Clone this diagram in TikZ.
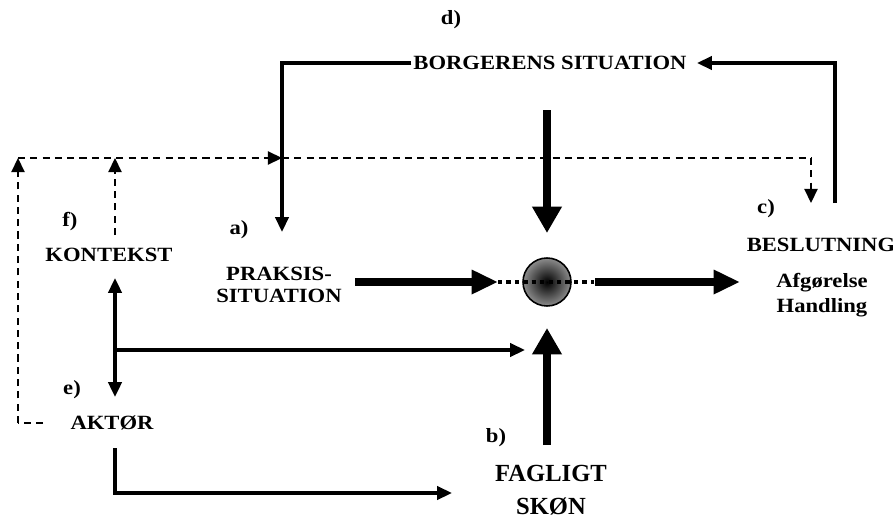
\documentclass[tikz,border=0pt]{standalone}
\usepackage{fontspec}
\setmainfont{Liberation Serif}[FakeStretch=1.12]
\newfontfamily\plainserif{Liberation Serif}
\usetikzlibrary{arrows.meta}
\begin{document}
\begin{tikzpicture}[x=0.02cm,y=-0.02cm,
  lbl/.style={font=\bfseries\fontsize{11.5}{13.5}\selectfont, inner sep=1pt, align=center},
  big/.style={font=\plainserif\bfseries\fontsize{14}{19}\selectfont, inner sep=1pt, align=center},
  heavy/.style={line width=4.4pt, -{Triangle[length=15pt,width=13pt]}},
  heavyv/.style={line width=4pt, -{Triangle[length=15pt,width=16pt]}},
  mid/.style={line width=2pt, -{Triangle[length=8.5pt,width=7.5pt]}},
  dashln/.style={line width=0.9pt, dash pattern=on 4pt off 3pt},
  dtip/.style={-{Triangle[length=8pt,width=7.5pt]}},
  dotline/.style={line width=2.4pt, dash pattern=on 2.4pt off 2.4pt}]
\path[use as bounding box] (0,0) rectangle (893,521);

% labels
\node[lbl] (ld) at (451,20) {d)};
\node[lbl] (bs) at (550,63) {BORGERENS SITUATION};
\node[lbl] (lf) at (70,222) {f)};
\node[lbl] (kon) at (109,255) {KONTEKST};
\node[lbl] (la) at (239,230) {a)};
\node[lbl] (prak) at (279,285) {PRAKSIS-\\[-1pt]SITUATION};
\node[lbl] (le) at (72,390) {e)};
\node[lbl] (akt) at (112,423) {AKTØR};
\node[lbl] (lb) at (496,438) {b)};
\node[big] (fag) at (551,490) {FAGLIGT\\SKØN};
\node[lbl] (lc) at (766,209) {c)};
\node[lbl] (bes) at (821,245) {BESLUTNING};
\node[lbl] (afg) at (822,295) {Afgørelse\\[1pt]Handling};

% central point
\node[circle, draw=black, line width=0.9pt, minimum size=48*0.02cm, inner sep=0pt,
      shading=radial, inner color=black, outer color=black!45] (core) at (547,282) {};

% coordinates
\coordinate (tl) at (282,63);
\coordinate (aIn) at (282,232);
\coordinate (tr) at (835,63);
\coordinate (rb) at (835,203);
\coordinate (bsIn) at (697,63);
\coordinate (dl) at (18,158);
\coordinate (dlb) at (18,423);
\coordinate (dle) at (43,423);
\coordinate (dk) at (115,158);
\coordinate (dks) at (115,235);
\coordinate (dx) at (282,158);
\coordinate (dr) at (811,158);
\coordinate (drb) at (811,203);
\coordinate (kTop) at (115,278);
\coordinate (kBot) at (115,397);
\coordinate (kMid) at (115,350);
\coordinate (kEnd) at (525,350);
\coordinate (aS) at (115,448);
\coordinate (aC) at (115,493);
\coordinate (aE) at (452,493);
\coordinate (pS) at (355,282);
\coordinate (pE) at (498,282);
\coordinate (oS) at (595,282);
\coordinate (oE) at (740,282);
\coordinate (tS) at (547,110);
\coordinate (tE) at (547,233);
\coordinate (bS) at (547,445);
\coordinate (bE) at (547,328);
\coordinate (dotS) at (498,282);
\coordinate (dotE) at (594,282);

% dashed feedback loops
\draw[dashln] (dle) -- (dlb);
\draw[dashln, dtip] (dlb) -- (dl);
\draw[dashln, dtip] (dks) -- (dk);
\draw[dashln, dtip] (dl) -- (dx);
\draw[dashln] (dx) -- (dr);
\draw[dashln, dtip] (dr) -- (drb);

% dotted axis through the core
\draw[dotline] (dotS) -- (dotE);

% borgerens situation loop
\draw[mid] (bs.west) -- (tl) -- (aIn);
\draw[mid] (rb) -- (tr) -- (bsIn);

% main thick arrows
\draw[heavy] (pS) -- (pE);
\draw[heavy] (oS) -- (oE);
\draw[heavyv] (tS) -- (tE);
\draw[heavyv] (bS) -- (bE);

% aktør / kontekst
\draw[line width=2.2pt, {Triangle[length=8.5pt,width=7.5pt]}-{Triangle[length=8.5pt,width=7.5pt]}] (kTop) -- (kBot);
\draw[line width=2pt, -{Triangle[length=8.5pt,width=7.5pt]}] (kMid) -- (kEnd);
\draw[line width=2pt, -{Triangle[length=8.5pt,width=7.5pt]}] (aS) -- (aC) -- (aE);
\end{tikzpicture}
\end{document}
